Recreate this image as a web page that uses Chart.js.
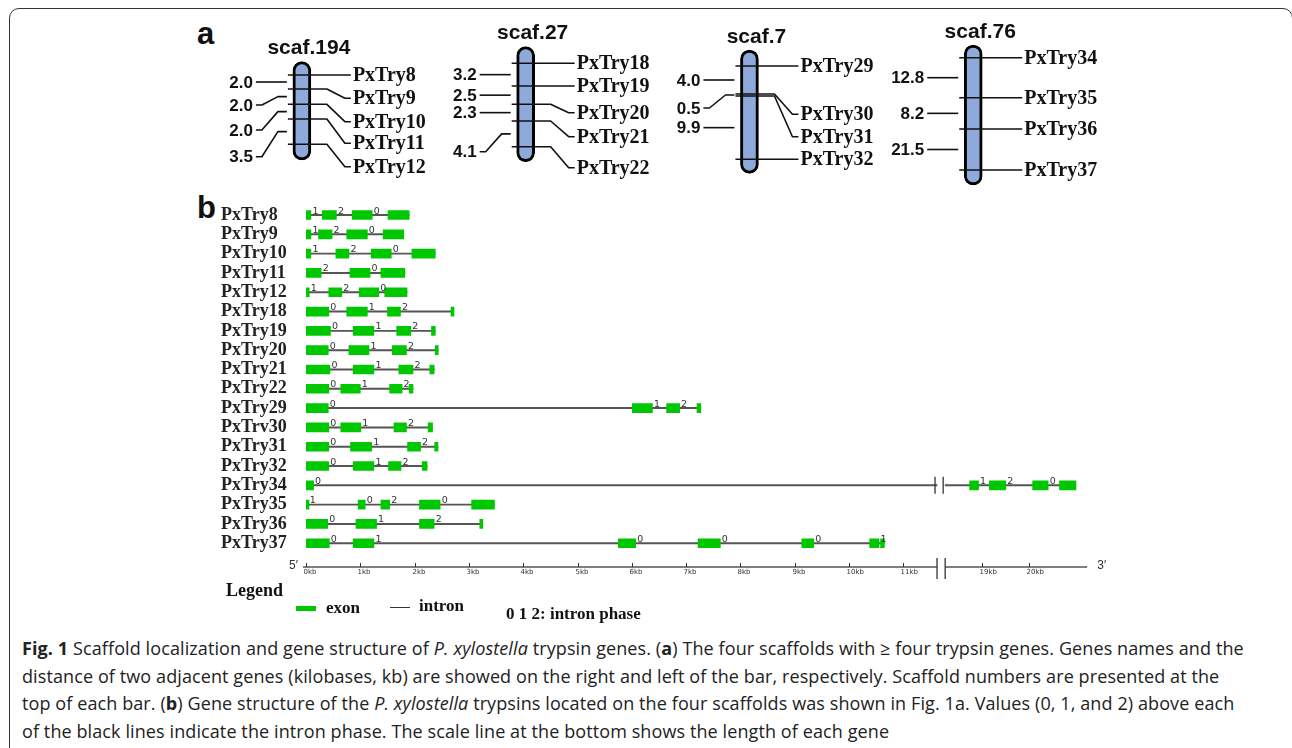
<!DOCTYPE html>
<html><head><meta charset="utf-8">
<script src="https://cdn.jsdelivr.net/npm/chart.js@4.4.1/dist/chart.umd.min.js"></script>
<style>
html,body{margin:0;padding:0;background:#fff;}
body{width:1292px;height:748px;position:relative;overflow:hidden;font-family:"Liberation Sans",Arial,sans-serif;color:#111;}
.frame{position:absolute;left:9px;top:8px;width:1284px;height:770px;border:1.5px solid #333;border-radius:10px;box-sizing:border-box;}
.abs{position:absolute;white-space:nowrap;}
.panel{font:bold 31px "Liberation Sans",Arial,sans-serif;line-height:31px;}
.leg{font:bold 17px "Liberation Serif","Times New Roman",serif;line-height:20px;height:20px;color:#111;}
.cap{position:absolute;left:22px;top:635px;font:18px "Open Sans",sans-serif;letter-spacing:0.1px;color:#222;}
.cap div{height:27.5px;line-height:27.5px;white-space:nowrap;}
canvas{position:absolute;}
</style></head>
<body>
<div class="frame"></div>
<div class="abs panel" style="left:197px;top:18px;">a</div>
<div class="abs panel" style="left:197px;top:192px;">b</div>
<canvas id="ca" width="960" height="180" style="left:190px;top:15px;"></canvas>
<canvas id="cb" width="930" height="390" style="left:190px;top:197px;"></canvas>

<div class="abs leg" style="left:226px;top:580px;font-size:18px;">Legend</div>
<div class="abs" style="left:296px;top:606px;width:20px;height:5px;background:#00c800;"></div>
<div class="abs leg" style="left:326px;top:598px;">exon</div>
<div class="abs" style="left:390px;top:607px;width:20px;height:1.4px;background:#333;"></div>
<div class="abs leg" style="left:419px;top:596px;">intron</div>
<div class="abs leg" style="left:506px;top:604px;">0 1 2: intron phase</div>

<div class="cap">
<div><b>Fig. 1</b> Scaffold localization and gene structure of <i>P. xylostella</i> trypsin genes. (<b>a</b>) The four scaffolds with ≥ four trypsin genes. Genes names and the</div>
<div>distance of two adjacent genes (kilobases, kb) are showed on the right and left of the bar, respectively. Scaffold numbers are presented at the</div>
<div>top of each bar. (<b>b</b>) Gene structure of the <i>P. xylostella</i> trypsins located on the four scaffolds was shown in Fig. 1a. Values (0, 1, and 2) above each</div>
<div>of the black lines indicate the intron phase. The scale line at the bottom shows the length of each gene</div>
</div>

<script>
// ---------------- DATA: panel a (scaffold maps) ----------------
const SCAFFOLDS = ['scaf.194', 'scaf.27', 'scaf.7', 'scaf.76'];
// extent of each scaffold bar (map position, top -> bottom)
const SCAF_SPAN = [[46.7, 145], [31.7, 146.7], [35, 158.3], [30, 170]];
// gene names on each scaffold
const SCAF_GENES = [
  ['PxTry8', 'PxTry9', 'PxTry10', 'PxTry11', 'PxTry12'],
  ['PxTry18', 'PxTry19', 'PxTry20', 'PxTry21', 'PxTry22'],
  ['PxTry29', 'PxTry30', 'PxTry31', 'PxTry32'],
  ['PxTry34', 'PxTry35', 'PxTry36', 'PxTry37']
];
// gene position along each scaffold (map position)
const GENE_POS = [
  [60, 74, 89.3, 104, 129.3],
  [48.3, 71, 89.3, 106, 131.7],
  [51, 79, 81, 144.3],
  [42.7, 82.7, 114, 155]
];
// distance between adjacent genes (kb)
const DISTANCES = [
  [2.0, 2.0, 2.0, 3.5],
  [3.2, 2.5, 2.3, 4.1],
  [4.0, 0.5, 9.9],
  [12.8, 8.2, 21.5]
];

// ---------------- DATA: panel b (gene structures, kb) ----------------
const GENES = ['PxTry8','PxTry9','PxTry10','PxTry11','PxTry12','PxTry18','PxTry19','PxTry20','PxTry21',
  'PxTry22','PxTry29','PxTrv30','PxTry31','PxTry32','PxTry34','PxTry35','PxTry36','PxTry37'];
const EXONS = [
  [[0,0.09],[0.30,0.56],[0.85,1.22],[1.51,1.90]],
  [[0,0.09],[0.23,0.48],[0.75,1.13],[1.42,1.80]],
  [[0,0.09],[0.55,0.79],[1.20,1.57],[1.95,2.38]],
  [[0,0.28],[0.81,1.18],[1.38,1.82]],
  [[0,0.06],[0.42,0.66],[0.98,1.34],[1.45,1.86]],
  [[0,0.42],[0.75,1.13],[1.50,1.74],[2.67,2.70]],
  [[0,0.45],[0.87,1.25],[1.67,1.93],[2.31,2.38]],
  [[0,0.41],[0.79,1.16],[1.59,1.85],[2.38,2.43]],
  [[0,0.44],[0.87,1.25],[1.71,1.97],[2.28,2.36]],
  [[0,0.42],[0.64,1.00],[1.54,1.77],[1.90,1.97]],
  [[0,0.41],[6.01,6.38],[6.64,6.88],[7.20,7.27]],
  [[0,0.42],[0.64,1.01],[1.62,1.85],[2.25,2.33]],
  [[0,0.42],[0.82,1.21],[1.87,2.11],[2.37,2.43]],
  [[0,0.42],[0.87,1.25],[1.52,1.75],[2.14,2.23]],
  [[0,0.14],[18.73,18.92],[19.15,19.50],[20.07,20.40],[20.64,20.99]],
  [[0,0.04],[0.96,1.09],[1.38,1.54],[2.09,2.47],[3.05,3.47]],
  [[0,0.40],[0.92,1.30],[2.09,2.36],[3.20,3.25]],
  [[0,0.43],[0.87,1.25],[5.75,6.07],[7.22,7.63],[9.13,9.35],[10.38,10.55],[10.58,10.65]]
];
const PHASES = [
  [1,2,0],[1,2,0],[1,2,0],[2,0],[1,2,0],[0,1,2],[0,1,2],[0,1,2],[0,1,2],
  [0,1,2],[0,1,2],[0,1,2],[0,1,2],[0,1,2],[0,1,2,0],[1,0,2,0],[0,1,2],[0,1,0,0,0,1]
];
const TICKS_KB = [0,1,2,3,4,5,6,7,8,9,10,11,19,20];
const AXIS_END_KB = 21.23;
// axis break: 11.62 kb ... 18.21 kb, the part after the break is drawn compressed
const BREAK = {from: 11.62, to: 18.21, gap: 0.15, squeeze: 0.866};

// ---------------- LAYOUT (label placement, not data) ----------------
const LAYOUT = {
  rightLabelY: [
    [60, 83.3, 106.7, 128.3, 151.7],
    [49.3, 72.7, 97.7, 121.7, 152.7],
    [51, 99.3, 121.7, 145.7],
    [42.7, 87.3, 114, 155]
  ],
  leftLabelY: [
    [65, 90, 115, 141.7],
    [61.7, 83, 101, 136.7],
    [66.7, 93, 116.7],
    [60, 98, 137]
  ]
};

function disp(kb) {
  return kb <= BREAK.from ? kb : BREAK.from + BREAK.gap + (kb - BREAK.to) * BREAK.squeeze;
}

// ---------------- Panel a ----------------
const scafPlugin = {
  id: 'scaf',
  afterDatasetsDraw(chart) {
    const {ctx, scales: {x, y}} = chart;
    ctx.save();
    ctx.strokeStyle = '#111';
    ctx.fillStyle = '#111';
    ctx.lineWidth = 1.6;
    ctx.lineJoin = 'round';
    SCAFFOLDS.forEach((name, i) => {
      const cx = x.getPixelForValue(i);
      const topPx = y.getPixelForValue(SCAF_SPAN[i][0]);
      ctx.font = 'bold 21px "Liberation Sans", Arial';
      ctx.textAlign = 'center';
      ctx.textBaseline = 'middle';
      ctx.fillText(name, cx + 7, topPx - 13);
      const labelX = cx + 51;
      GENE_POS[i].forEach((gp, j) => {
        const gy = y.getPixelForValue(gp);
        const ly = y.getPixelForValue(LAYOUT.rightLabelY[i][j]);
        let ty;
        ctx.beginPath();
        ctx.moveTo(cx - 14, gy);
        if (Math.abs(ly - gy) < 5) {
          ctx.lineTo(labelX - 2, gy);
          ty = gy;
        } else {
          ctx.lineTo(cx + 25, gy);
          ctx.lineTo(labelX - 8, ly);
          ctx.lineTo(labelX - 2, ly);
          ty = ly;
        }
        ctx.stroke();
        ctx.font = 'bold 20px "Liberation Serif", "Times New Roman", serif';
        ctx.textAlign = 'left';
        ctx.fillText(SCAF_GENES[i][j], labelX, ty + 1);
      });
      DISTANCES[i].forEach((d, j) => {
        const mid = y.getPixelForValue((GENE_POS[i][j] + GENE_POS[i][j + 1]) / 2);
        const ly = y.getPixelForValue(LAYOUT.leftLabelY[i][j]);
        const lx = cx - 49;
        let ty;
        ctx.beginPath();
        if (Math.abs(ly - mid) < 6) {
          ctx.moveTo(lx + 3, mid);
          ctx.lineTo(cx - 15, mid);
          ty = mid;
        } else {
          ctx.moveTo(lx + 3, ly);
          ctx.lineTo(lx + 9, ly);
          ctx.lineTo(cx - 24, mid);
          ctx.lineTo(cx - 15, mid);
          ty = ly;
        }
        ctx.stroke();
        ctx.font = 'bold 17px "Liberation Sans", Arial';
        ctx.textAlign = 'right';
        ctx.fillText(d.toFixed(1), lx, ty + 1);
      });
    });
    ctx.restore();
  }
};

new Chart(document.getElementById('ca'), {
  type: 'bar',
  data: {
    datasets: [{
      data: SCAFFOLDS.map((s, i) => ({x: i, y: SCAF_SPAN[i]})),
      backgroundColor: '#8eaadb',
      borderColor: '#000',
      borderWidth: 3,
      borderRadius: 9,
      borderSkipped: false,
      barThickness: 18
    }]
  },
  options: {
    responsive: false,
    animation: false,
    layout: {padding: 0},
    plugins: {legend: {display: false}, tooltip: {enabled: false}},
    scales: {
      x: {type: 'linear', offset: false, min: -0.5, max: 3.79, display: false},
      y: {type: 'linear', reverse: true, min: 0, max: 180, display: false}
    }
  },
  plugins: [scafPlugin]
});

// ---------------- Panel b ----------------
const exonData = [];
const intronData = [];
GENES.forEach((g, i) => {
  const ex = EXONS[i];
  ex.forEach(([s, e]) => exonData.push({y: i, x: [disp(s), disp(e)]}));
  const a = ex[0][0], b = ex[ex.length - 1][1];
  if (b > BREAK.from) {
    intronData.push({y: i, x: [disp(a), BREAK.from]});
    intronData.push({y: i, x: [BREAK.from + BREAK.gap, disp(b)]});
  } else {
    intronData.push({y: i, x: [disp(a), disp(b)]});
  }
});

const genePlugin = {
  id: 'genes',
  afterDraw(chart) {
    const {ctx, scales: {x, y}, chartArea} = chart;
    ctx.save();
    ctx.font = '9.5px "DejaVu Sans", sans-serif';
    ctx.fillStyle = '#333';
    ctx.textAlign = 'left';
    ctx.textBaseline = 'alphabetic';
    GENES.forEach((g, i) => {
      const ry = y.getPixelForValue(i);
      PHASES[i].forEach((p, j) => {
        const px = x.getPixelForValue(disp(EXONS[i][j][1]));
        ctx.fillText(String(p), px + 1.5, ry - 1.5);
      });
      const last = EXONS[i][EXONS[i].length - 1][1];
      if (last > BREAK.from) {
        ctx.strokeStyle = '#333';
        ctx.lineWidth = 1.3;
        [BREAK.from, BREAK.from + BREAK.gap].forEach(v => {
          const bx = x.getPixelForValue(v) - 2;
          ctx.beginPath(); ctx.moveTo(bx, ry - 8.5); ctx.lineTo(bx, ry + 8.5); ctx.stroke();
        });
      }
    });
    const ay = chartArea.bottom;
    ctx.strokeStyle = '#555';
    ctx.lineWidth = 1.3;
    ctx.beginPath();
    ctx.moveTo(x.getPixelForValue(0) - 3, ay);
    ctx.lineTo(x.getPixelForValue(BREAK.from), ay);
    ctx.moveTo(x.getPixelForValue(BREAK.from + BREAK.gap), ay);
    ctx.lineTo(x.getPixelForValue(disp(AXIS_END_KB)), ay);
    ctx.stroke();
    ctx.strokeStyle = '#333';
    [BREAK.from, BREAK.from + BREAK.gap].forEach(v => {
      const bx = x.getPixelForValue(v);
      ctx.beginPath(); ctx.moveTo(bx, ay - 9); ctx.lineTo(bx, ay + 12); ctx.stroke();
    });
    ctx.lineWidth = 1;
    ctx.font = '7px "DejaVu Sans", sans-serif';
    ctx.fillStyle = '#333';
    ctx.textBaseline = 'top';
    TICKS_KB.forEach(k => {
      const tx = Math.round(x.getPixelForValue(disp(k))) + 0.5;
      ctx.beginPath(); ctx.moveTo(tx, ay - 4); ctx.lineTo(tx, ay); ctx.stroke();
      ctx.fillText(k + 'kb', tx - 3, ay + 2);
    });
    ctx.font = '12px "Liberation Sans", Arial';
    ctx.textBaseline = 'middle';
    ctx.textAlign = 'right';
    ctx.fillText('5\u2032', x.getPixelForValue(0) - 8, ay - 1);
    ctx.textAlign = 'left';
    ctx.fillText('3\u2032', x.getPixelForValue(disp(AXIS_END_KB)) + 10, ay - 1);
    ctx.restore();
  }
};

new Chart(document.getElementById('cb'), {
  type: 'bar',
  data: {
    datasets: [
      {label: 'exon', data: exonData, backgroundColor: '#00c800', borderWidth: 0,
       barThickness: 9, minBarLength: 3, grouped: false, order: 1},
      {label: 'intron', data: intronData, backgroundColor: '#555', borderWidth: 0,
       barThickness: 1.3, grouped: false, order: 2}
    ]
  },
  options: {
    indexAxis: 'y',
    responsive: false,
    animation: false,
    layout: {padding: {left: 31, right: 32, top: 8.35, bottom: 20}},
    plugins: {legend: {display: false}, tooltip: {enabled: false}},
    scales: {
      x: {type: 'linear', min: 0, max: 14.4, display: false},
      y: {
        type: 'linear', offset: false, reverse: true, min: -0.5, max: 18.23,
        afterBuildTicks: s => { s.ticks = GENES.map((g, i) => ({value: i})); },
        afterFit: s => { s.width = 85; s.paddingTop = 0; s.paddingBottom = 0; },
        ticks: {
          callback: v => GENES[v],
          autoSkip: false,
          crossAlign: 'far',
          padding: 0,
          color: '#222',
          font: {family: '"Liberation Serif", "Times New Roman", serif', size: 18, weight: 'bold'}
        },
        grid: {display: false},
        border: {display: false}
      }
    }
  },
  plugins: [genePlugin]
});
</script>
</body></html>
